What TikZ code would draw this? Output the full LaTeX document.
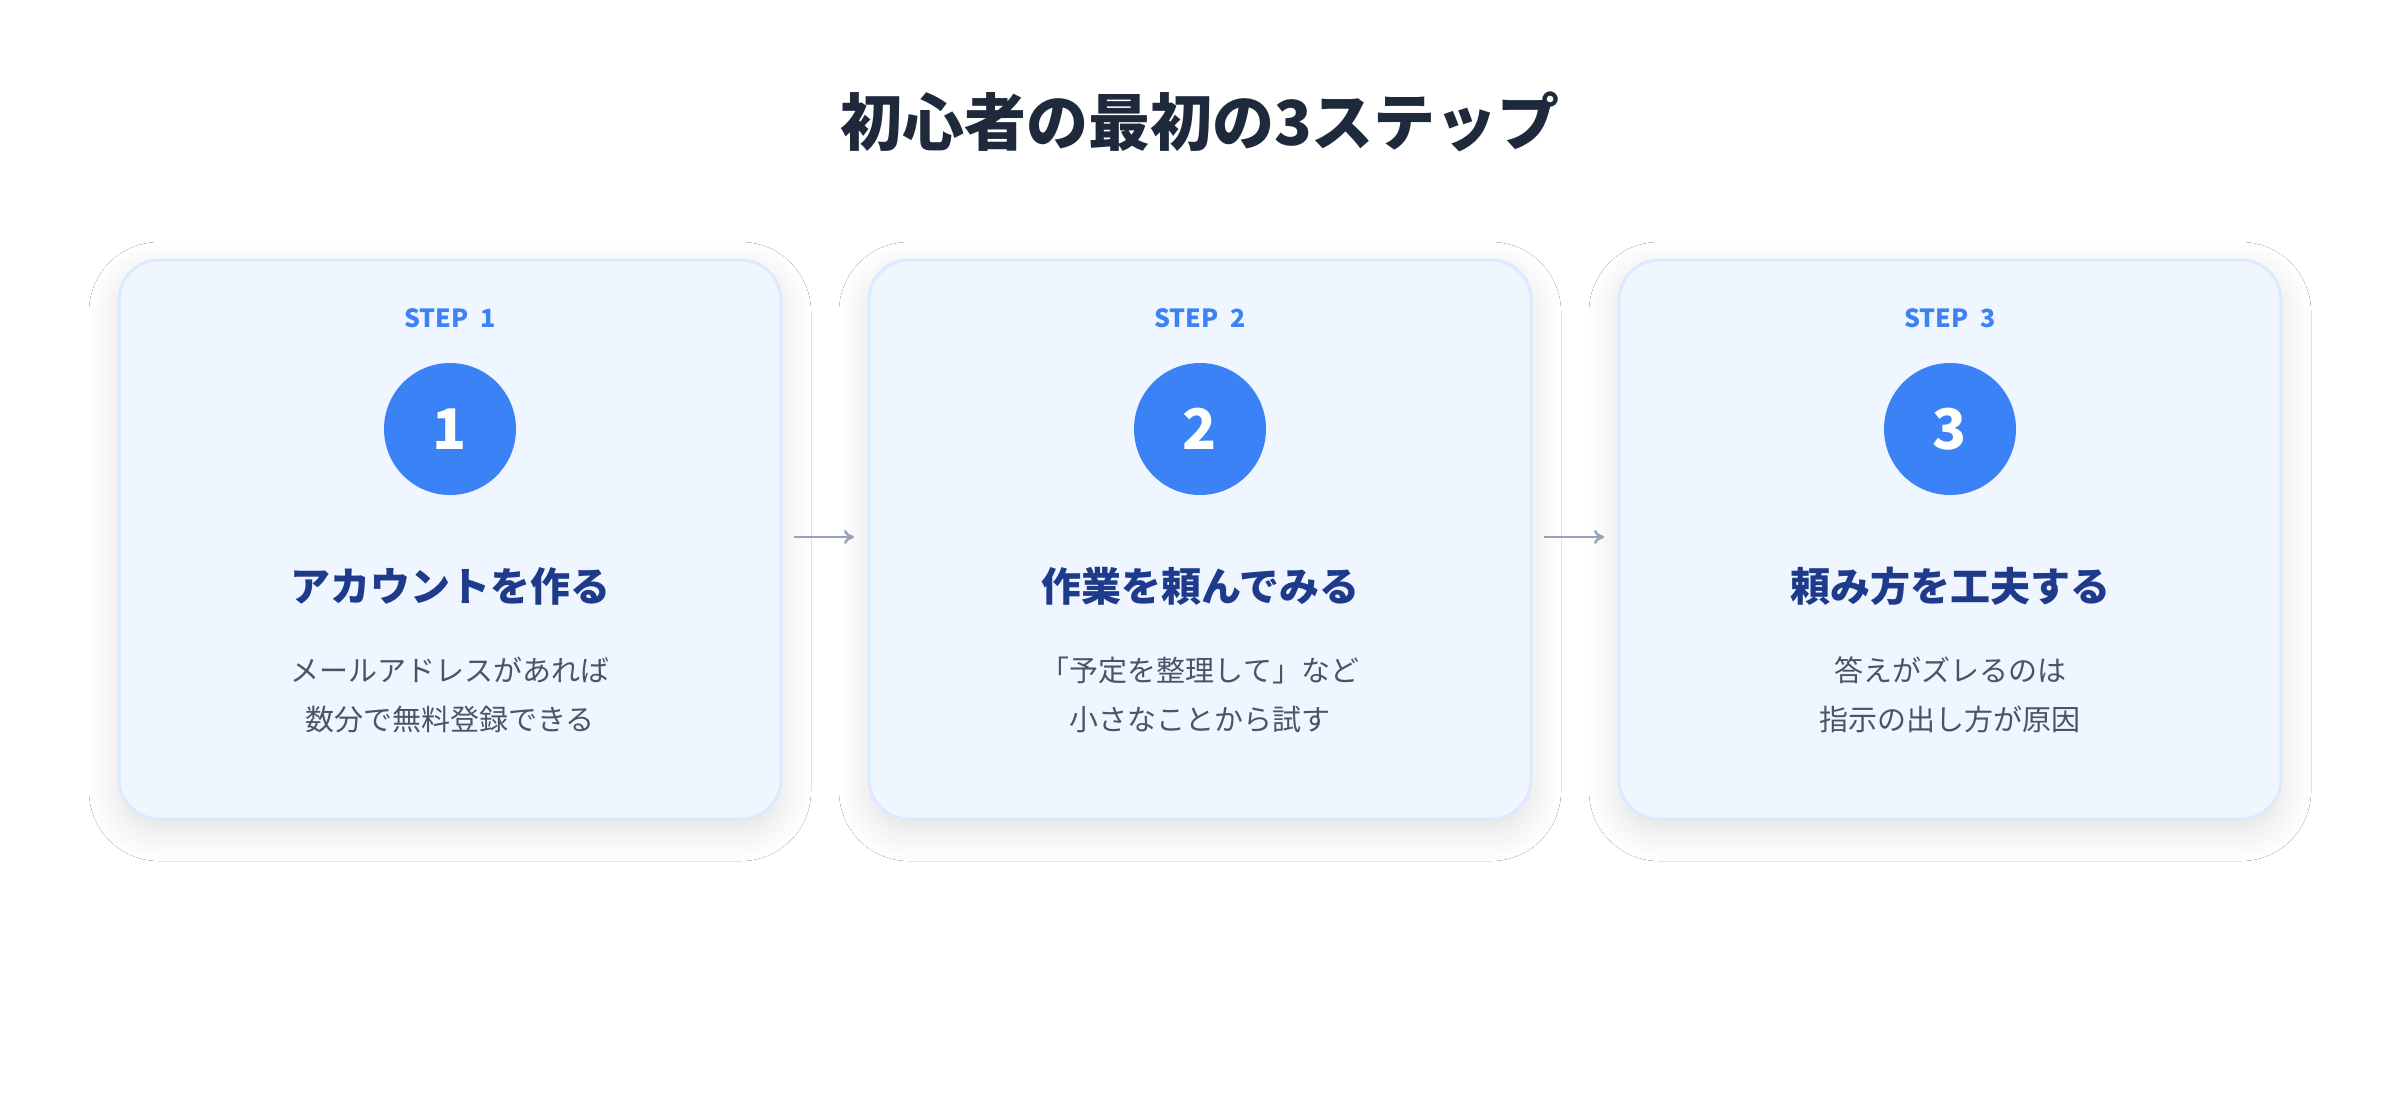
\documentclass[tikz,border=0pt]{standalone}
\usepackage{fontspec}
\setmainfont{Noto Sans CJK JP}
\usetikzlibrary{shadows.blur,arrows.meta}
\definecolor{ttl}{HTML}{1E293B}
\definecolor{cardfill}{HTML}{EFF6FF}
\definecolor{cardline}{HTML}{DBEAFE}
\definecolor{blue}{HTML}{3B82F6}
\definecolor{navy}{HTML}{1E3A8A}
\definecolor{desc}{HTML}{475569}
\definecolor{arr}{HTML}{94A3B8}
\tikzset{
 card/.style={draw=cardline,line width=3pt,fill=cardfill,rounded corners=40pt,minimum width=662pt,minimum height=559pt,blur shadow={shadow blur steps=10,shadow xshift=0pt,shadow yshift=-12pt,shadow opacity=12,shadow blur radius=30pt}},
 steplbl/.style={text=blue,font=\fontsize{25}{30}\selectfont\bfseries},
 num/.style={circle,fill=blue,minimum size=132pt,text=white,font=\fontsize{56}{60}\selectfont\bfseries},
 head/.style={text=navy,font=\fontsize{40}{48}\selectfont\bfseries},
 dsc/.style={text=desc,align=center,font=\fontsize{29}{49}\selectfont},
 conn/.style={draw=arr,line width=2.5pt,-{To[length=10pt,width=14pt]}}
}
\begin{document}
\begin{tikzpicture}[x=1pt,y=-1pt]
\useasboundingbox (0,0) rectangle (2400,1100);
\fill[white] (0,0) rectangle (2400,1100);
\node[text=ttl,font=\fontsize{62}{70}\selectfont\bfseries] (title) at (1200,122) {初心者の最初の3ステップ};
\foreach \i/\x/\h/\a/\b in {1/450/アカウントを作る/メールアドレスがあれば/数分で無料登録できる,2/1200/作業を頼んでみる/「予定を整理して」など/小さなことから試す,3/1950/頼み方を工夫する/答えがズレるのは/指示の出し方が原因}{
 \node[card] (c\i) at (\x,539.5) {};
 \node[steplbl] (s\i) at (\x,318) {STEP\ \ \i};
 \node[num] (n\i) at (\x,429) {\i};
 \node[head] (h\i) at (\x,586) {\h};
 \node[dsc] (d\i) at (\x,695) {\a\\\b};
}
\coordinate (a1s) at (794,537); \coordinate (a1e) at (854,537);
\coordinate (a2s) at (1544,537); \coordinate (a2e) at (1604,537);
\draw[conn] (a1s) -- (a1e);
\draw[conn] (a2s) -- (a2e);
\end{tikzpicture}
\end{document}
